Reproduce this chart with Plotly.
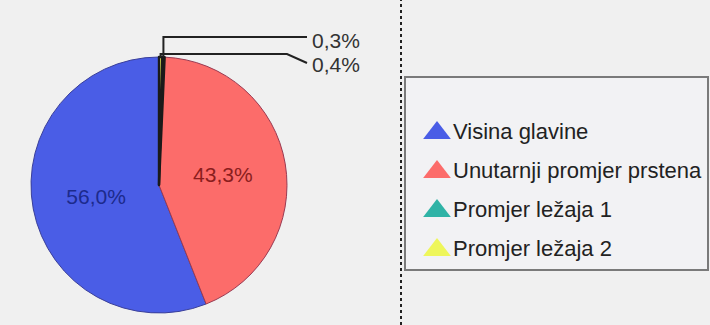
import math
import plotly.graph_objects as go

# ---- data ----
categories = ["Visina glavine", "Unutarnji promjer prstena", "Promjer ležaja 1", "Promjer ležaja 2"]
values = [56.0, 43.3, 0.3, 0.4]
colors = ["#4a5de6", "#fc6c6a", "#2fb3a6", "#eef65a"]
outline_colors = ["#3a3f9a", "#9a3a52", "#1a1a1a", "#1a1a1a"]
outline_widths = [1, 1, 2.4, 2.4]
label_colors = ["#1c2a8c", "#8a1d1d", "#333333", "#333333"]
inside_slices = [True, True, False, False]

W, H = 710, 325
def px(x):
    return x / W
def py(y):
    return 1 - y / H

FONT = "Liberation Sans, Arial, sans-serif"

# pie geometry (pixels)
cx, cy, r = 159, 185, 128
total = sum(values)

fig = go.Figure()
# first slice runs counter-clockwise from 12 o'clock (as in the source chart)
fig.add_trace(go.Pie(
    labels=categories,
    values=values,
    sort=False,
    direction="counterclockwise",
    rotation=360.0 * (1 - values[0] / total),
    marker=dict(colors=colors, line=dict(color=outline_colors, width=outline_widths)),
    texttemplate=["%{value:.1f}%" if s else "" for s in inside_slices],
    textposition=["inside" if s else "none" for s in inside_slices],
    insidetextorientation="horizontal",
    insidetextfont=dict(family=FONT, size=21, color=label_colors),
    domain=dict(x=[px(cx - r), px(cx + r)], y=[py(cy + r), py(cy - r)]),
    showlegend=False,
    hoverinfo="label+percent",
))

# ---- leader lines + outside labels for small slices ----
cum = 0.0
elbow_levels = {2: (37, None), 3: (54, 287)}
label_y = {2: 40, 3: 64}
shapes = []
annotations = []
for i, v in enumerate(values):
    start = cum
    cum += v
    if inside_slices[i]:
        continue
    mid_ccw = (start + v / 2) / total * 360.0
    cw = math.radians(360.0 - mid_ccw)
    x0 = cx + r * math.sin(cw)
    y0 = cy - r * math.cos(cw)
    ly, bend = elbow_levels[i]
    end_x = 307
    if bend is None:
        path = f"M {px(x0)},{py(y0)} L {px(x0)},{py(ly)} L {px(end_x)},{py(ly)}"
    else:
        path = (f"M {px(x0)},{py(y0)} L {px(x0)},{py(ly)} L {px(bend)},{py(ly)} "
                f"L {px(end_x)},{py(label_y[i] - 1)}")
    shapes.append(dict(type="path", path=path, xref="paper", yref="paper",
                       line=dict(color="#222222", width=2)))
    annotations.append(dict(
        x=px(310), y=py(label_y[i]), xref="paper", yref="paper",
        xanchor="left", yanchor="middle", showarrow=False,
        text=f"{v:.1f}%".replace(".", ","),
        font=dict(family=FONT, size=21, color="#333333"),
    ))

# dotted separator
shapes.append(dict(type="line", xref="paper", yref="paper",
                   x0=px(401), x1=px(401), y0=0, y1=1,
                   line=dict(color="#222222", width=2, dash="dot")))

# legend box
box_l, box_r, box_t, box_b = 405, 708, 77, 270
shapes.append(dict(type="rect", xref="paper", yref="paper",
                   x0=px(box_l), x1=px(box_r), y0=py(box_b), y1=py(box_t),
                   line=dict(color="#7a7a7a", width=2), fillcolor="#f2f2f4",
                   layer="below"))

# legend rows (manual, with triangle markers)
row0, row_step = 133, 39
rows = list(range(len(categories)))
y_top = (box_t - row0) / row_step
y_bot = (box_b - row0) / row_step
fig.add_trace(go.Scatter(
    x=[32] * len(categories), y=rows, mode="markers",
    marker=dict(symbol="triangle-up", size=24, color=colors,
                line=dict(width=0)),
    showlegend=False, hoverinfo="skip", cliponaxis=False,
))
fig.add_trace(go.Scatter(
    x=[48] * len(categories), y=rows, mode="text", text=categories,
    textposition="middle right",
    textfont=dict(family=FONT, size=22, color="#222222"),
    showlegend=False, hoverinfo="skip", cliponaxis=False,
))

fig.update_layout(
    width=W, height=H,
    margin=dict(l=0, r=0, t=0, b=0),
    paper_bgcolor="#f0f0f0",
    plot_bgcolor="rgba(0,0,0,0)",
    separators=",.",
    shapes=shapes,
    annotations=annotations,
    xaxis=dict(domain=[px(box_l), px(box_r)], range=[0, box_r - box_l],
               visible=False, fixedrange=True),
    yaxis=dict(domain=[py(box_b), py(box_t)], range=[y_bot, y_top],
               visible=False, fixedrange=True),
)

fig.write_html(
    "out.html",
    config={"displayModeBar": False},
    post_script="document.body.style.margin='0';document.body.style.background='#f0f0f0';document.body.style.overflow='hidden';",
)
